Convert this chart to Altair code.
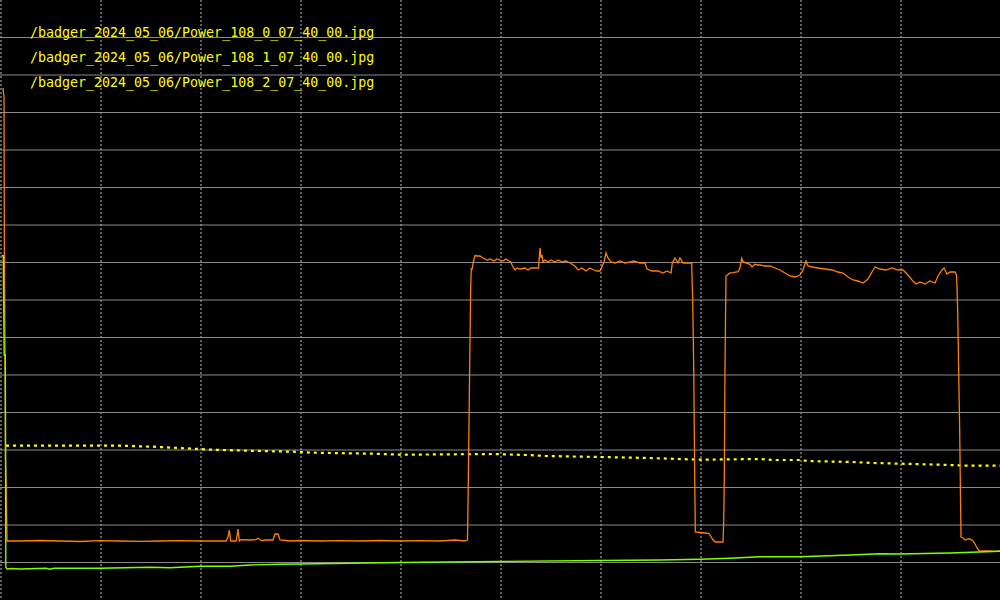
import altair as alt
import pandas as pd

# ---- data (x: sample index, y: level) ----
labels = [
    "/badger_2024_05_06/Power_108_0_07_40_00.jpg",
    "/badger_2024_05_06/Power_108_1_07_40_00.jpg",
    "/badger_2024_05_06/Power_108_2_07_40_00.jpg",
]

orange_x = [3, 4, 4.5, 5, 5.6, 6, 7, 20, 40, 60, 80, 100, 120, 140, 160, 180, 200, 226, 228, 229.3,
            230.7, 236, 237, 238, 239.3, 241, 250, 256, 258, 262, 266, 273, 275, 278, 280, 290, 300,
            320, 340, 360, 380, 400, 420, 440, 455, 465, 467.5, 468.3, 469.7, 470.7, 471.3, 472,
            473.3, 475, 477, 480, 483, 487, 490, 494, 497, 500, 503, 506, 509, 511, 512, 515, 517,
            520, 525, 528, 531, 535, 538.5, 540, 541, 542, 543, 545, 548, 551, 555, 558, 562, 566,
            570, 575, 578, 582, 586, 590, 594, 597, 600, 604, 606, 608, 611, 615, 620, 625, 630,
            634, 640, 645, 647, 652, 658, 663, 667, 671, 672.3, 675, 678, 680, 683, 688, 691.7, 692,
            692.7, 693.7, 694.7, 695.3, 700, 705, 709, 711, 713, 715, 723, 723.7, 724.3, 725, 726,
            730, 733, 738, 740, 741.7, 743, 747, 750, 752, 755, 758, 760, 765, 770, 775, 780, 785,
            790, 795, 800, 803, 806, 808, 812, 818, 825, 832, 838, 843, 848, 853, 858, 863, 868,
            872, 875, 880, 886, 892, 898, 903, 907, 912, 916, 920, 925, 930, 935, 938, 942, 944,
            947, 950, 955, 956.5, 957, 957.7, 959.7, 961, 963, 965, 968, 970, 973, 975, 977, 979,
            985, 990, 995, 1000]
orange_y = [512, 503, 313, 245, 139, 123, 59, 59, 59.5, 59, 58.5, 59.3, 59, 58.7, 59, 59.3, 59, 59, 63, 70,
            59, 59, 64, 71, 59, 60.3, 60, 60.3, 61.7, 59.3, 60, 60, 66, 66, 60, 59, 59.5,
            59, 59.3, 59, 59.5, 59, 59.3, 59, 60, 59, 60, 118, 236, 314, 332, 330,
            338, 344.5, 344, 344, 342, 340, 341, 339, 341, 340, 339, 341, 339, 338, 335, 330, 332,
            331, 332, 330, 332, 332, 332, 352, 342, 345, 338, 340, 338, 340, 338, 340, 338, 339,
            337, 334, 330, 332, 329, 332, 330, 329, 329, 338, 347, 342, 338, 337, 339, 337, 338,
            339, 337, 337, 331, 329, 329, 327, 329, 327, 337, 342, 337, 342, 337, 337, 337, 323,
            301, 234, 124, 68, 67.5, 67, 66.5, 63.5, 60, 58, 58, 79, 121, 233, 324,
            327, 327.3, 328.3, 332.3, 341.7, 338.3, 336.7, 335.7, 333, 335.7, 335, 335, 334, 334, 332, 330, 327,
            324, 323, 325, 330, 339, 334, 333, 332, 331, 330, 328, 327, 323, 320, 319, 317, 321,
            328, 333, 331, 330, 332, 330, 330, 326, 320, 316, 318, 316, 319, 317, 324, 330, 332,
            326, 328, 328, 325, 313, 288, 168, 63, 62, 60, 61, 61, 59, 56, 52, 49.3,
            49, 49, 48.7, 49]

green_x = [1.5, 3.3, 3.5, 4.2, 5.3, 5.8, 7, 12, 20, 46, 50, 54, 100, 150, 170, 200, 230, 250, 280, 300,
           400, 500, 600, 660, 700, 730, 760, 800, 850, 880, 900, 950, 1000]
green_y = [344.3, 344.3, 312, 245, 245, 33, 31, 31.5, 31, 31.7, 30.7, 31.7, 31.7, 32.7, 32.3, 33.7, 33.7, 35,
           35.7, 36, 37.5, 38.5, 39.5, 40, 40.7, 41.7, 43.3, 43.3, 45, 46.3, 46, 47, 48.7]

yellow_x = [6, 60, 120, 153, 173, 193, 213, 247, 293, 313, 373, 400, 493, 527, 547, 600, 650, 700, 760,
            773, 800, 807, 853, 873, 913, 940, 967, 1000]
yellow_y = [154.3, 154.3, 154.3, 153.3, 152.3, 151.3, 150.3, 149.3, 148.3, 147.3, 146.3, 145.3, 146, 145, 144,
            143, 142, 140.3, 141, 140, 140, 139, 138, 137, 136, 135.3, 134.3, 134.3]

h_grid = [37.5 * k for k in range(1, 16)]
v_grid = [0, 100, 200, 300, 400, 500, 600, 700, 800, 900]

# ---- chart ----
xs = alt.Scale(domain=[0, 1000], nice=False, zero=False)
ys = alt.Scale(domain=[0, 600], nice=False, zero=False)

df_o = pd.DataFrame({"t": orange_x, "v": orange_y})
df_g = pd.DataFrame({"t": green_x, "v": green_y})
df_y = pd.DataFrame({"t": yellow_x, "v": yellow_y})
df_h = pd.DataFrame({"v": h_grid})
df_v = pd.DataFrame({"t": v_grid})
df_l = pd.DataFrame({"label": labels, "idx": list(range(len(labels)))})

hgrid = alt.Chart(df_h).mark_rule(color="#8a8a8a", strokeWidth=1).encode(
    y=alt.Y("v:Q", scale=ys, axis=None)
)
vgrid = alt.Chart(df_v).mark_rule(color="#a0a0a0", strokeWidth=1.2, strokeDash=[2, 2], xOffset=1).encode(
    x=alt.X("t:Q", scale=xs, axis=None)
)

yellow = alt.Chart(df_y).mark_line(color="#ffff00", strokeWidth=2.2, strokeDash=[3, 4]).encode(
    x=alt.X("t:Q", scale=xs, axis=None), y=alt.Y("v:Q", scale=ys, axis=None)
)
orange = alt.Chart(df_o).mark_line(color="#ff8000", strokeWidth=1.3).encode(
    x=alt.X("t:Q", scale=xs, axis=None), y=alt.Y("v:Q", scale=ys, axis=None)
)
green = alt.Chart(df_g).mark_line(color="#80ff00", strokeWidth=1.4).encode(
    x=alt.X("t:Q", scale=xs, axis=None), y=alt.Y("v:Q", scale=ys, axis=None)
)

text = alt.Chart(df_l).transform_calculate(
    py="37 + 25 * datum.idx"
).mark_text(
    align="left", baseline="alphabetic", font="DejaVu Sans Mono", fontSize=13.3, color="#ffff00"
).encode(
    x=alt.value(30), y=alt.Y("py:Q", scale=None), text="label:N"
)

chart = alt.layer(hgrid, vgrid, yellow, orange, green, text).properties(
    width=1000, height=600, background="#000000", padding=0,
    autosize=alt.AutoSizeParams(type="none"),
).configure_view(strokeWidth=0)

chart.save("out.html", embed_options={"renderer": "svg", "actions": False})
